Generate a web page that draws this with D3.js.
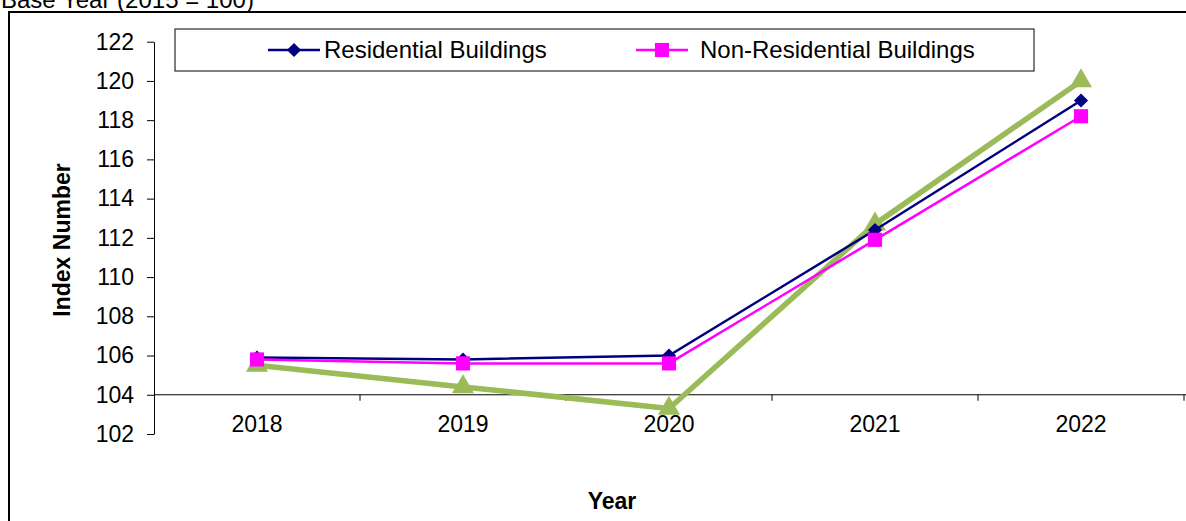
<!DOCTYPE html>
<html>
<head>
<meta charset="utf-8">
<script src="https://cdn.jsdelivr.net/npm/d3@7"></script>
<style>
  html, body { margin: 0; padding: 0; background: #fff; overflow: hidden; }
  svg { display: block; }
  text { font-family: "Liberation Sans", Arial, sans-serif; }
</style>
</head>
<body>
<svg id="chart" width="1186" height="521"></svg>
<script>
const categories = ["2018", "2019", "2020", "2021", "2022"];
const residential = [105.9, 105.8, 106.0, 112.4, 119.0];
const nonResidential = [105.8, 105.6, 105.6, 111.9, 118.2];
const third = [105.5, 104.4, 103.3, 112.7, 120.0];
const yTicks = [102, 104, 106, 108, 110, 112, 114, 116, 118, 120, 122];
const seriesNames = ["Residential Buildings", "Non-Residential Buildings"];

const svg = d3.select("#chart");
const FS = 23;

// outer frame
svg.append("rect").attr("x", 9).attr("y", 12).attr("width", 1200).attr("height", 540)
  .attr("fill", "none").attr("stroke", "#000").attr("stroke-width", 2);

// title (partly cut, as in the source image)
svg.append("text").attr("x", 1).attr("y", 8).attr("font-size", 24).attr("fill", "#000")
  .text("Base Year (2015 = 100)");

const x = d3.scaleBand().domain(categories).range([154, 1184]);
const y = d3.scaleLinear().domain([102, 122]).range([434, 41.7]);
const cx = c => x(c) + x.bandwidth() / 2;

// y axis
const yAxis = svg.append("g").attr("transform", "translate(154,0)")
  .call(d3.axisLeft(y).tickValues(yTicks).tickSize(7).tickSizeOuter(0).tickPadding(13));
yAxis.selectAll("path,line").attr("stroke", "#000").attr("stroke-width", 1);
yAxis.selectAll("text").attr("font-size", FS).attr("fill", "#000")
  .attr("font-family", "'Liberation Sans', Arial, sans-serif");

// x axis line at 104
const y0 = y(104);
svg.append("line").attr("x1", 154).attr("x2", 1186).attr("y1", y0).attr("y2", y0)
  .attr("stroke", "#000").attr("stroke-width", 1);
svg.append("g").selectAll("line").data(categories).join("line")
  .attr("x1", d => x(d) + x.bandwidth()).attr("x2", d => x(d) + x.bandwidth())
  .attr("y1", y0).attr("y2", y0 + 6).attr("stroke", "#000").attr("stroke-width", 1);
svg.append("g").selectAll("text").data(categories).join("text")
  .attr("x", d => cx(d)).attr("y", 432).attr("text-anchor", "middle")
  .attr("font-size", FS).attr("fill", "#000").text(d => d);

// axis titles
svg.append("text").attr("transform", "translate(70,240) rotate(-90)")
  .attr("text-anchor", "middle").attr("font-size", FS).attr("font-weight", "bold")
  .text("Index Number");
svg.append("text").attr("x", 612).attr("y", 509).attr("text-anchor", "middle")
  .attr("font-size", FS).attr("font-weight", "bold").text("Year");

const line = d3.line().x((d, i) => cx(categories[i])).y(d => y(d));

// green series
svg.append("path").datum(third).attr("d", line).attr("fill", "none")
  .attr("stroke", "#9BBB59").attr("stroke-width", 5.5).attr("stroke-linejoin", "round");
const tri = d3.symbol().type(d3.symbolTriangle).size(210);
svg.append("g").selectAll("path").data(third).join("path")
  .attr("d", tri).attr("transform", (d, i) => `translate(${cx(categories[i])},${y(d)})`)
  .attr("fill", "#9BBB59");

// residential
svg.append("path").datum(residential).attr("d", line).attr("fill", "none")
  .attr("stroke", "#000080").attr("stroke-width", 2.5);
const diamond = d3.symbol().type(d3.symbolSquare).size(100);
svg.append("g").selectAll("path").data(residential).join("path")
  .attr("d", diamond).attr("transform", (d, i) => `translate(${cx(categories[i])},${y(d)}) rotate(45)`)
  .attr("fill", "#000080");

// non residential
svg.append("path").datum(nonResidential).attr("d", line).attr("fill", "none")
  .attr("stroke", "#FF00FF").attr("stroke-width", 2.5);
const square = d3.symbol().type(d3.symbolSquare).size(200);
svg.append("g").selectAll("path").data(nonResidential).join("path")
  .attr("d", square).attr("transform", (d, i) => `translate(${cx(categories[i])},${y(d)})`)
  .attr("fill", "#FF00FF");

// legend
svg.append("rect").attr("x", 175).attr("y", 29).attr("width", 859).attr("height", 42)
  .attr("fill", "#fff").attr("stroke", "#000").attr("stroke-width", 1);
const legendItems = [
  { name: seriesNames[0], color: "#000080", sym: diamond, rot: 45, lx: 268 },
  { name: seriesNames[1], color: "#FF00FF", sym: square, rot: 0, lx: 636 }
];
const lg = svg.append("g").selectAll("g").data(legendItems).join("g");
lg.append("line").attr("x1", d => d.lx).attr("x2", d => d.lx + 52).attr("y1", 50).attr("y2", 50)
  .attr("stroke", d => d.color).attr("stroke-width", 2.5);
lg.append("path").attr("d", d => d.sym())
  .attr("transform", d => `translate(${d.lx + 26},50) rotate(${d.rot})`).attr("fill", d => d.color);
lg.append("text").attr("x", d => d.lx + 56 + (d.rot ? 0 : 8)).attr("y", 58)
  .attr("font-size", 24).attr("fill", "#000").text(d => d.name);
</script>
</body>
</html>
